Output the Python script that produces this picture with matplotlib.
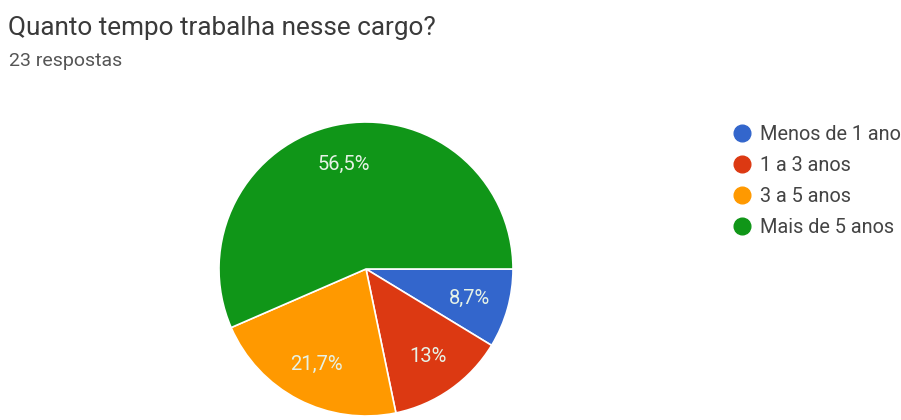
import numpy as np
import matplotlib.pyplot as plt
from matplotlib.lines import Line2D

plt.rcParams['font.family'] = ['Roboto', 'DejaVu Sans']

# Respostas (23 no total)
categorias = ["Menos de 1 ano", "1 a 3 anos", "3 a 5 anos", "Mais de 5 anos"]
respostas = [2, 3, 5, 13]
rotulos = ["8,7%", "13%", "21,7%", "56,5%"]
cores = ["#3366cc", "#dc3912", "#ff9900", "#109618"]

fig = plt.figure(figsize=(9.01, 4.2), dpi=100)

fig.text(8 / 901, 1 - 35 / 420, "Quanto tempo trabalha nesse cargo?",
         fontsize=18.8, color="#3a3a3a")
fig.text(9 / 901, 1 - 66 / 420, "23 respostas", fontsize=14, color="#555555")

# Pizza
ax = fig.add_axes([(366 - 147) / 901, (151 - 147) / 420, 294 / 901, 294 / 420])
wedges, _ = ax.pie(respostas, colors=cores, startangle=0, counterclock=False,
                   radius=1, wedgeprops=dict(edgecolor="white", linewidth=1.2))
ax.set_xlim(-1, 1)
ax.set_ylim(-1, 1)
ax.set_aspect("equal")
ax.axis("off")

# Percentuais dentro das fatias
for w, txt in zip(wedges, rotulos):
    ang = np.deg2rad((w.theta1 + w.theta2) / 2)
    ax.text(0.73 * np.cos(ang), 0.73 * np.sin(ang), txt, ha="center",
            va="center", fontsize=14.5, color="#e6f2e6")

# Legenda
handles = [Line2D([], [], marker="o", linestyle="", markersize=12,
                  markerfacecolor=c, markeredgecolor=c) for c in cores]
fig.legend(handles, categorias, loc="upper left",
           bbox_to_anchor=(726 / 901, 1 - 117 / 420), frameon=False,
           fontsize=14.3, labelcolor="#444444", handletextpad=0.5,
           labelspacing=0.61, handlelength=0.8, borderaxespad=0)

fig.savefig("out.png", dpi=100)
